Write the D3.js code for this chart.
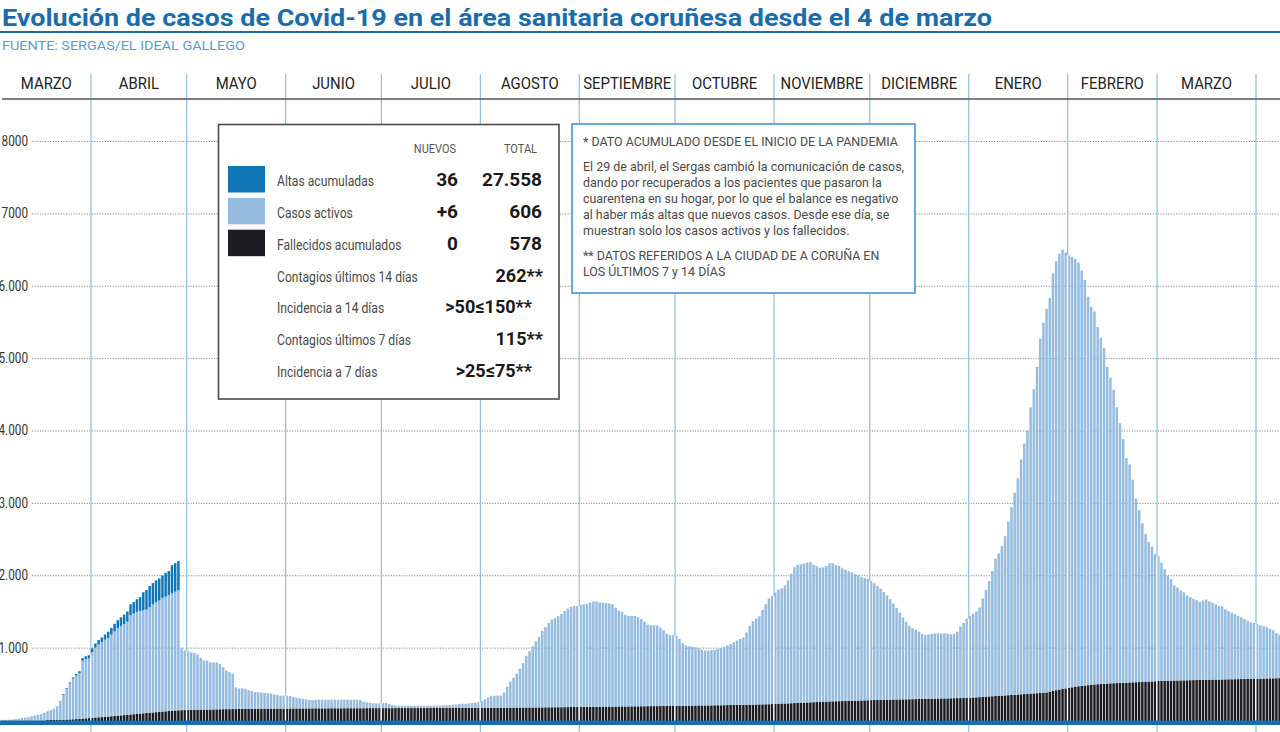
<!DOCTYPE html>
<html lang="es">
<head>
<meta charset="utf-8">
<title>Evolución de casos de Covid-19 en el área sanitaria coruñesa</title>
<script src="https://cdn.jsdelivr.net/npm/d3@7"></script>
<style>
  html, body { margin: 0; padding: 0; background: #fff; }
  svg { display: block; font-family: Roboto, "Liberation Sans", sans-serif; }
</style>
</head>
<body>
<svg id="grafico" width="1280" height="732"></svg>
<script>
// valores diarios desde el 4 de marzo de 2020
const fallecidos = [
  // mar 2020 (4-31)
  0,0,0,0,0,0,0,0,0,0,0,0,0,0,1,1,2,2,3,4,6,8,10,13,16,19,22,26,
  // abr
  30,33,37,40,44,48,52,56,60,64,68,72,76,80,84,88,92,96,100,104,108,112,116,120,124,128,131,134,136,137,
  // may
  138,139,140,141,142,143,144,145,146,147,148,149,150,150,151,151,152,152,153,153,154,154,155,155,156,156,157,157,157,158,158,
  // jun
  158,158,159,159,159,160,160,160,160,161,161,161,161,162,162,162,162,162,163,163,163,163,163,163,163,164,164,164,164,164,
  // jul
  164,164,164,164,165,165,165,165,165,165,165,165,165,165,166,166,166,166,166,166,166,166,166,166,166,166,167,167,167,167,167,
  // ago
  167,167,167,168,168,168,168,169,169,169,170,170,171,171,172,172,173,173,174,174,175,175,176,176,177,177,178,178,179,179,180,
  // sep
  180,181,181,182,182,183,183,184,184,185,185,186,186,187,187,188,188,189,189,190,190,191,191,192,192,193,193,194,194,195,
  // oct
  195,196,196,197,198,198,199,200,200,201,202,202,203,204,204,205,206,207,207,208,209,210,211,212,213,214,215,216,217,218,220,
  // nov
  222,224,226,228,230,232,234,236,238,240,242,244,246,248,250,252,254,256,258,259,260,262,263,264,266,267,268,270,271,273,
  // dic
  275,276,277,278,279,280,281,282,283,284,285,286,287,288,289,290,291,292,293,294,295,296,297,298,299,300,301,302,303,304,305,
  // ene 2021
  308,310,313,316,319,322,325,328,331,334,337,340,343,346,349,352,355,358,361,364,367,370,373,376,380,392,404,412,420,428,436,
  // feb
  444,452,460,466,471,476,481,486,491,494,497,500,503,506,508,510,512,514,516,518,520,522,524,526,528,530,532,534,
  // mar
  540,541,542,543,544,545,546,547,548,549,550,551,552,553,554,555,556,557,558,559,560,561,562,563,564,565,566,567,568,569,570,
  // abr (1-8)
  571,572,573,574,575,576,577,578
];

const activos = [
  // mar 2020
  2,3,5,8,12,18,27,31,40,50,63,72,81,100,120,137,155,187,253,342,421,496,561,603,632,800,819,824,
  // abr
  910,966,1007,1035,1067,1086,1127,1168,1209,1236,1259,1287,1373,1391,1410,1419,1424,1429,1461,1493,1521,1539,1571,1585,1604,1622,1642,1661,854,823,
  // may
  812,796,790,764,718,682,676,651,650,649,627,581,535,510,489,299,284,284,277,257,246,231,227,223,216,214,209,198,188,178,178,
  // jun
  178,172,159,148,141,135,125,118,116,117,121,119,117,118,121,118,116,118,119,117,116,118,117,112,90,80,72,66,66,68,
  // jul
  70,70,58,44,35,33,34,32,33,31,32,33,34,32,31,32,33,32,34,37,39,41,45,49,55,59,58,63,67,73,78,
  // ago
  95,118,143,160,168,168,170,211,291,361,413,470,539,615,715,778,845,915,971,1056,1110,1165,1214,1234,1258,1290,1330,1362,1383,1397,1396,
  // sep
  1410,1419,1424,1443,1455,1454,1440,1439,1431,1425,1415,1364,1324,1310,1268,1251,1251,1248,1231,1205,1170,1127,1119,1118,1113,1082,1047,1001,978,977,
  // oct
  970,924,869,833,820,814,806,792,775,759,756,766,767,778,788,805,826,845,868,890,911,930,998,1088,1152,1186,1217,1304,1383,1462,1490,
  // nov
  1538,1576,1594,1632,1700,1788,1876,1909,1912,1922,1934,1936,1899,1877,1855,1856,1874,1909,1907,1881,1868,1833,1813,1791,1774,1751,1730,1705,1689,1677,
  // dic
  1645,1614,1573,1537,1491,1440,1389,1328,1267,1196,1130,1070,1014,977,959,932,899,880,887,898,900,902,898,900,893,886,889,918,987,1036,1095,
  // ene 2021
  1131,1160,1187,1238,1361,1478,1595,1732,1899,1966,2063,2200,2397,2594,2791,2988,3245,3462,3639,3956,4203,4510,4897,5114,5300,5438,5766,5928,6020,6072,6024,
  // feb
  5976,5948,5910,5854,5739,5604,5369,5224,5154,4936,4783,4640,4377,4224,4052,3810,3588,3366,3104,3012,2800,2538,2376,2194,2042,1930,1863,1756,
  // mar
  1720,1634,1540,1452,1400,1315,1284,1243,1217,1171,1150,1124,1103,1077,1096,1110,1084,1063,1037,1017,1010,969,943,919,898,874,852,828,804,781,770,
  // abr (1-8)
  753,733,722,708,687,664,623,602
];

// altas acumuladas: solo hasta el 28 de abril
const altas = [
  0,0,0,0,0,0,0,0,0,0,0,0,0,0,0,0,0,0,5,10,12,15,18,20,25,35,40,45,
  50,58,60,65,70,85,95,105,110,120,130,140,150,160,175,190,250,270,290,295,300,305,310,330,330,390,395,400
];

const nombresMes = ["MARZO","ABRIL","MAYO","JUNIO","JULIO","AGOSTO","SEPTIEMBRE","OCTUBRE","NOVIEMBRE","DICIEMBRE","ENERO","FEBRERO","MARZO"];
const ticksY = [1000, 2000, 3000, 4000, 5000, 6000, 7000, 8000];
const etiquetasY = ["1.000","2.000","3.000","4.000","5.000","6.000","7000","8000"];

const leyendaSeries = ["Altas acumuladas", "Casos activos", "Fallecidos acumulados"];
const nuevos = ["36", "+6", "0"];
const totales = ["27.558", "606", "578"];
const indicadores = ["Contagios últimos 14 días", "Incidencia a 14 días", "Contagios últimos 7 días", "Incidencia a 7 días"];
const indicadoresValor = ["262**", ">50≤150**", "115**", ">25≤75**"];

const notas = [
  "* DATO ACUMULADO DESDE EL INICIO DE LA PANDEMIA",
  "El 29 de abril, el Sergas cambió la comunicación de casos,",
  "dando por recuperados a los pacientes que pasaron la",
  "cuarentena en su hogar, por lo que el balance es negativo",
  "al haber más altas que nuevos casos. Desde ese día, se",
  "muestran solo los casos activos y los fallecidos.",
  "** DATOS REFERIDOS A LA CIUDAD DE A CORUÑA EN",
  "LOS ÚLTIMOS 7 y 14 DÍAS"
];

const colores = { altas: "#1176b6", activos: "#95bbdf", fallecidos: "#1c1b20" };
const azul = "#1b6cab";

const svg = d3.select("#grafico");
const width = +svg.attr("width");

// texto estrecho (la fuente original es condensada)
function estrechar(sel, k) {
  sel.each(function () {
    const l = this.getComputedTextLength();
    d3.select(this).attr("textLength", l * k).attr("lengthAdjust", "spacingAndGlyphs");
  });
}
function ajustar(sel, w) {
  sel.attr("textLength", w).attr("lengthAdjust", "spacingAndGlyphs");
}

const inicio = new Date(Date.UTC(2020, 2, 4));
const dias = d3.utcDay.range(inicio, d3.utcDay.offset(inicio, activos.length));

const x = d3.scaleUtc()
  .domain([inicio, new Date(Date.UTC(2021, 3, 1))])
  .range([1.6, 1256]);
const y = d3.scaleLinear().domain([0, 8000]).range([720, 141]);

const tabla = dias.map((d, i) => ({
  fecha: d,
  fallecidos: fallecidos[i],
  activos: activos[i],
  altas: altas[i] || 0
}));
const series = d3.stack().keys(["fallecidos", "activos", "altas"])(tabla);
const total = tabla.map(d => d.fallecidos + d.activos + d.altas);

// título y fuente
svg.append("text")
  .attr("x", 2).attr("y", 26)
  .attr("font-size", 24).attr("font-weight", 700)
  .attr("fill", azul)
  .text("Evolución de casos de Covid-19 en el área sanitaria coruñesa desde el 4 de marzo")
  .call(ajustar, 990);

svg.append("line")
  .attr("x1", 0).attr("x2", width).attr("y1", 32).attr("y2", 32)
  .attr("stroke", azul).attr("stroke-width", 2);

svg.append("text")
  .attr("x", 2).attr("y", 50)
  .attr("font-size", 13).attr("fill", "#5b9bd0")
  .text("FUENTE: SERGAS/EL IDEAL GALLEGO")
  .call(ajustar, 243);

// rejilla y eje vertical
const ejeY = svg.append("g")
  .attr("transform", "translate(32,0)")
  .call(d3.axisLeft(y).tickValues(ticksY).tickSize(-(width - 32)).tickPadding(4)
    .tickFormat((d, i) => etiquetasY[i]));
ejeY.select(".domain").remove();
ejeY.selectAll(".tick line")
  .attr("stroke", "#8c8c8c").attr("stroke-dasharray", "1.2,1.4");
ejeY.selectAll(".tick text")
  .attr("font-family", "Roboto, sans-serif")
  .attr("font-size", 14).attr("fill", "#333")
  .call(estrechar, 0.84);

// líneas de mes
const cortes = d3.utcMonth.range(new Date(Date.UTC(2020, 3, 1)), new Date(Date.UTC(2021, 3, 2)));
svg.append("g")
  .selectAll("line")
  .data(cortes)
  .join("line")
  .attr("x1", d => x(d)).attr("x2", d => x(d))
  .attr("y1", 74).attr("y2", 732)
  .attr("stroke", "#8fbce0").attr("stroke-width", 1.2);

// barras apiladas
const paso = x(d3.utcDay.offset(inicio, 1)) - x(inicio);
svg.append("g")
  .selectAll("g")
  .data(series)
  .join("g")
  .attr("fill", s => colores[s.key])
  .selectAll("rect")
  .data(s => s.filter(d => d[1] > d[0]))
  .join("rect")
  .attr("x", d => x(d.data.fecha))
  .attr("width", paso - 0.7)
  .attr("y", d => y(d[1]))
  .attr("height", d => y(d[0]) - y(d[1]) + (d[0] === 0 ? 1.5 : 0));

// hueco blanco en el cambio de mes
const indice = d => d3.utcDay.count(inicio, d);
svg.append("g")
  .selectAll("line")
  .data(cortes.filter(d => indice(d) < tabla.length))
  .join("line")
  .attr("x1", d => x(d) - 0.2).attr("x2", d => x(d) - 0.2)
  .attr("y1", d => y(Math.min(total[indice(d)], total[indice(d) - 1])))
  .attr("y2", 722)
  .attr("stroke", "#fff").attr("stroke-width", 1.4);

// línea base
svg.append("rect")
  .attr("x", 0).attr("y", 720.5).attr("width", width).attr("height", 4.5)
  .attr("fill", azul);

// fila de meses
const meses = d3.utcMonth.range(new Date(Date.UTC(2020, 2, 1)), new Date(Date.UTC(2021, 3, 1)));
svg.append("line")
  .attr("x1", 2).attr("x2", width).attr("y1", 99).attr("y2", 99)
  .attr("stroke", "#555").attr("stroke-width", 1.5);
svg.append("g")
  .selectAll("text")
  .data(meses)
  .join("text")
  .attr("x", d => (x(d < inicio ? inicio : d) + x(d3.utcMonth.offset(d, 1))) / 2)
  .attr("y", 89)
  .attr("text-anchor", "middle")
  .attr("font-size", 16).attr("fill", "#222")
  .text((d, i) => nombresMes[i])
  .call(estrechar, 0.93);

// leyenda
const ley = svg.append("g");
ley.append("rect")
  .attr("x", 218.5).attr("y", 124.5).attr("width", 340.5).attr("height", 274.5)
  .attr("fill", "#fff").attr("stroke", "#4a4a4a").attr("stroke-width", 1.6);
ley.append("text").attr("x", 435).attr("y", 153).attr("text-anchor", "middle")
  .attr("font-size", 12.5).attr("fill", "#555").text("NUEVOS").call(estrechar, 0.88);
ley.append("text").attr("x", 537).attr("y", 153).attr("text-anchor", "end")
  .attr("font-size", 12.5).attr("fill", "#555").text("TOTAL").call(estrechar, 0.88);

const filaY = d3.scalePoint().domain(d3.range(7)).range([186, 377]);
const clavesLeyenda = ["altas", "activos", "fallecidos"];

ley.selectAll("rect.muestra")
  .data(clavesLeyenda)
  .join("rect")
  .attr("class", "muestra")
  .attr("x", 228).attr("width", 37)
  .attr("y", (d, i) => filaY(i) - 20).attr("height", 26.5)
  .attr("fill", d => colores[d]);

const etiquetas = ley.selectAll("text.etq")
  .data(leyendaSeries.concat(indicadores))
  .join("text")
  .attr("class", "etq")
  .attr("x", 277).attr("y", (d, i) => filaY(i))
  .attr("font-size", 14).attr("fill", "#4a4a4a")
  .text(d => d);
const kLey = 97 / etiquetas.node().getComputedTextLength();
etiquetas.call(estrechar, kLey);

ley.selectAll("text.nuevo")
  .data(nuevos)
  .join("text")
  .attr("class", "nuevo")
  .attr("x", 458).attr("y", (d, i) => filaY(i))
  .attr("text-anchor", "end")
  .attr("font-size", 19).attr("font-weight", 700).attr("fill", "#1a1a1a")
  .text(d => d);

ley.selectAll("text.total")
  .data(totales)
  .join("text")
  .attr("class", "total")
  .attr("x", 542).attr("y", (d, i) => filaY(i))
  .attr("text-anchor", "end")
  .attr("font-size", 19).attr("font-weight", 700).attr("fill", "#1a1a1a")
  .text(d => d);

ley.selectAll("text.ind")
  .data(indicadoresValor)
  .join("text")
  .attr("class", "ind")
  .attr("x", (d, i) => i % 2 ? 532 : 543).attr("y", (d, i) => filaY(i + 3))
  .attr("text-anchor", "end")
  .attr("font-size", 19).attr("font-weight", 700).attr("fill", "#1a1a1a")
  .text(d => d)
  .call(estrechar, 0.95);

// nota
const nota = svg.append("g");
nota.append("rect")
  .attr("x", 572).attr("y", 124).attr("width", 343).attr("height", 169)
  .attr("fill", "#fff").attr("stroke", "#5aa1d6").attr("stroke-width", 1.8);
const lineasY = [146, 171, 187, 203, 219, 235, 260, 276];
const lineas = nota.selectAll("text")
  .data(notas)
  .join("text")
  .attr("x", 583).attr("y", (d, i) => lineasY[i])
  .attr("font-size", 13).attr("fill", "#4a4a4a")
  .text(d => d);
const kNota = 321 / lineas.nodes()[1].getComputedTextLength();
lineas.call(estrechar, kNota);
</script>
</body>
</html>
